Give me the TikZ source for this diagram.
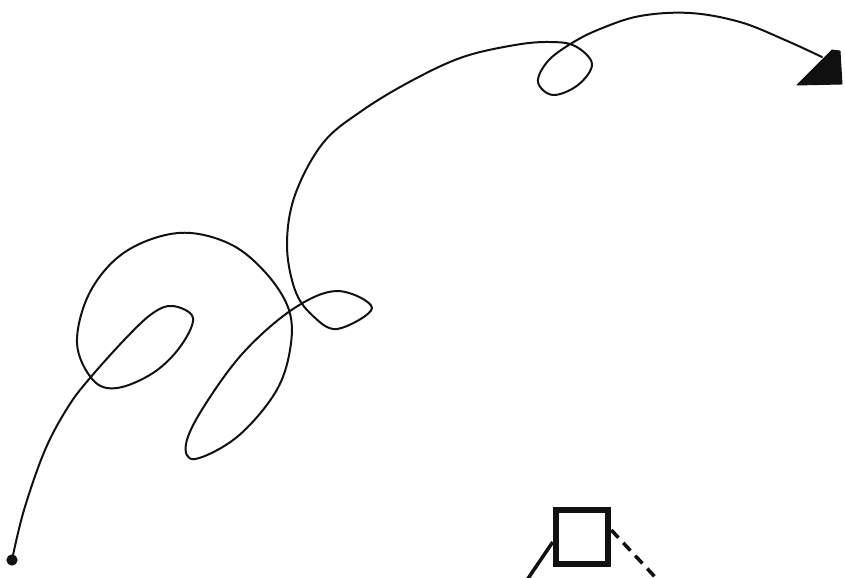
\documentclass[tikz,border=0pt]{standalone}
\usepackage{xcolor}
\usepackage{tikz}
\usetikzlibrary{arrows.meta,positioning,calc}
\definecolor{ink}{HTML}{111111}
\tikzset{
  trail/.style={draw=ink, line width=1.7pt, line cap=round, line join=round},
  startdot/.style={circle, fill=ink, draw=ink, line width=1pt, inner sep=0pt, minimum size=0.3cm},
  crate/.style={rectangle, draw=ink, line width=5pt, minimum width=1.58cm, minimum height=1.62cm, inner sep=0pt},
  legline/.style={draw=ink, line width=3pt},
  dashleg/.style={legline, dash pattern=on 9pt off 6pt},
  tip/.style={fill=ink, draw=ink, line width=0.8pt, line join=round},
}
\begin{document}
\begin{tikzpicture}[x=0.03cm, y=-0.03cm]
\useasboundingbox (0,0) rectangle (845,577);
\node[startdot] (start) at (12,560) {};
\coordinate (finish) at (822,57);
\node[crate] (box) at (582,537) {};
\coordinate (legL) at (527,580);
\coordinate (legR) at (656,578);
% the wandering line
\draw[trail] plot[smooth, tension=0.6] coordinates {
  (start.center) (24,510) (45,450) (68,407) (90,378) (127,337) (153,313) (173,306)
  (193,318) (180,347) (153,373) (117,388) (93,380) (77,343) (90,292) (125,252)
  (178,233) (228,243) (265,272) (289,310) (290,350) (275,393)
  (237,437) (195,459) (186,444) (203,408) (243,353) (293,309) (337,291) (372,308)
  (337,329) (312,315) (295,290) (287,245) (295,195) (323,143) (363,110)
  (413,80) (463,57) (515,45) (550,42) (575,46) (592,64) (578,85) (553,95)
  (538,82) (548,61) (572,43) (600,29) (640,16) (690,13) (740,22) (785,40) (finish)};
\fill[tip] (797,85) -- (832,50) -- (840,51) -- (842,84) -- cycle;
% legs of the box
\draw[legline] (legL) -- (box.west |- 0,542);
\draw[dashleg] (box.east |- 0,530) -- (legR);
\end{tikzpicture}
\end{document}
